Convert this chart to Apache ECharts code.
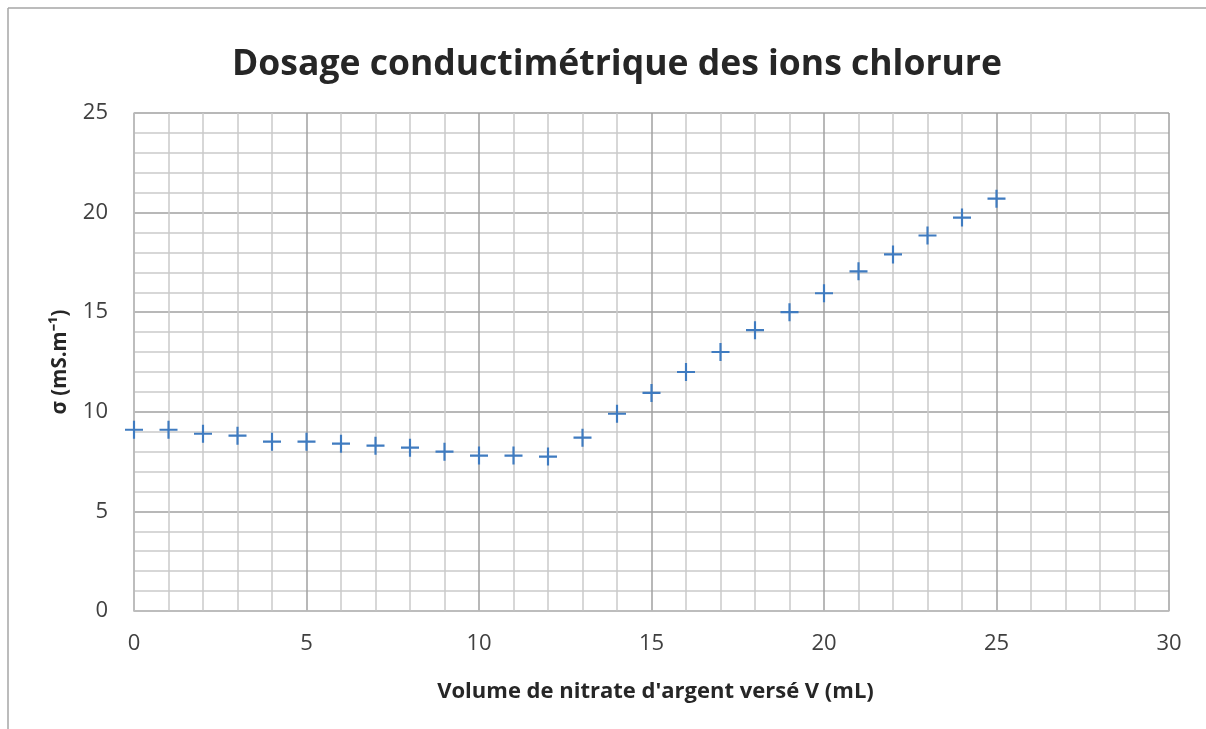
<!DOCTYPE html>
<html>
<head>
<meta charset="utf-8">
<script src="https://cdn.jsdelivr.net/npm/echarts@6/dist/echarts.min.js"></script>
<style>
html,body{margin:0;padding:0;background:#fff;}
#c{width:1206px;height:729px;}
</style>
</head>
<body>
<div id="c"></div>
<script>
const volumes = [0,1,2,3,4,5,6,7,8,9,10,11,12,13,14,15,16,17,18,19,20,21,22,23,24,25];
const sigma = [9.1,9.1,8.9,8.8,8.5,8.5,8.4,8.3,8.2,8.0,7.8,7.8,7.75,8.7,9.9,10.95,12.0,13.0,14.1,15.0,15.95,17.05,17.9,18.85,19.75,20.7];
const titleText = "Dosage conductimétrique des ions chlorure";
const xName = "Volume de nitrate d'argent versé V (mL)";
const yName = "σ (mS.m⁻¹)";

const FONT = "Open Sans";
const chart = echarts.init(document.getElementById('c'), null, {renderer:'canvas'});
const plus = 'path://M8.8,0h2.4v8.8h8.8v2.4h-8.8v8.8h-2.4v-8.8h-8.8v-2.4h8.8z';

chart.setOption({
  animation:false,
  backgroundColor:'#fff',
  title:{
    text:titleText, left:612, top:42, textAlign:'center',
    textStyle:{fontFamily:FONT, fontSize:35.5, fontWeight:'bold', color:'#262626'}
  },
  graphic:[
    {type:'line', shape:{x1:8,y1:8,x2:1206,y2:8}, style:{stroke:'#a6a6a6', lineWidth:1.5}},
    {type:'line', shape:{x1:8,y1:8,x2:8,y2:729}, style:{stroke:'#a6a6a6', lineWidth:1.5}}
  ],
  grid:{left:134, right:37, top:113, bottom:118, containLabel:false},
  xAxis:{
    type:'value', min:0, max:30, interval:5,
    name:xName, nameLocation:'middle', nameGap:70,
    nameTextStyle:{fontFamily:FONT, fontSize:22, fontWeight:'bold', color:'#262626', padding:[0,0,0,8]},
    axisLine:{show:true, lineStyle:{color:'#bfbfbf', width:1.5}},
    axisTick:{show:false},
    axisLabel:{fontFamily:FONT, fontSize:22, color:'#404040', margin:22},
    splitLine:{show:true, lineStyle:{color:'#a0a0a0', width:1.5}},
    minorSplitLine:{show:true, lineStyle:{color:'#cacaca', width:1.5}},
    minorTick:{show:false, splitNumber:5}
  },
  yAxis:{
    type:'value', min:0, max:25, interval:5,
    name:yName, nameLocation:'middle', nameGap:63, nameRotate:90,
    nameTextStyle:{fontFamily:FONT, fontSize:20.5, fontWeight:'bold', color:'#262626'},
    axisLine:{show:true, lineStyle:{color:'#bfbfbf', width:1.5}},
    axisTick:{show:false},
    axisLabel:{fontFamily:FONT, fontSize:22, color:'#404040', margin:26},
    splitLine:{show:true, lineStyle:{color:'#a0a0a0', width:1.5}},
    minorSplitLine:{show:true, lineStyle:{color:'#cacaca', width:1.5}},
    minorTick:{show:false, splitNumber:5}
  },
  series:[{
    type:'scatter',
    data:volumes.map((v,i)=>[v, sigma[i]]),
    symbol:plus, symbolSize:18,
    itemStyle:{color:'#3f7bc0', opacity:1}
  }]
});
</script>
</body>
</html>
